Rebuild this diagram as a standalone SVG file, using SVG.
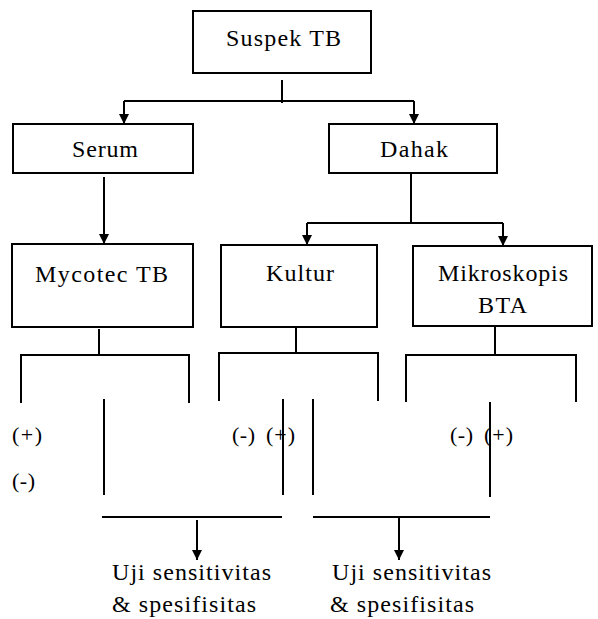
<svg xmlns="http://www.w3.org/2000/svg" width="598" height="619" viewBox="0 0 598 619">
<style>
.box{fill:#fff;stroke:#000;stroke-width:2}
.ln{fill:none;stroke:#000;stroke-width:2}
text{font-family:'Liberation Serif','DejaVu Serif Condensed','DejaVu Serif',serif;font-stretch:condensed;font-size:24px;fill:#000}
.s{font-size:22px}
</style>
<defs>
<marker id="ah" markerUnits="userSpaceOnUse" markerWidth="10" markerHeight="10" refX="10" refY="5" orient="auto">
<path d="M0,0 L10,5 L0,10 z" fill="#000"/>
</marker>
</defs>
<g id="connectors">
<path class="ln" d="M282,80 V103"/>
<path class="ln" d="M124,101 H414"/>
<path class="ln" d="M124,101 V124" marker-end="url(#ah)"/>
<path class="ln" d="M414,101 V124" marker-end="url(#ah)"/>
<path class="ln" d="M104,177 V244" marker-end="url(#ah)"/>
<path class="ln" d="M411,173 V223"/>
<path class="ln" d="M307,223 H503"/>
<path class="ln" d="M307,223 V245" marker-end="url(#ah)"/>
<path class="ln" d="M503,223 V246" marker-end="url(#ah)"/>
<path class="ln" d="M99,329 V354"/>
<path class="ln" d="M21,403 V355 H189 V403"/>
<path class="ln" d="M296,327 V353"/>
<path class="ln" d="M219,401 V353 H378 V401"/>
<path class="ln" d="M495,326 V354"/>
<path class="ln" d="M406,402 V355 H576 V402"/>
<path class="ln" d="M104,399 V495"/>
<path class="ln" d="M283,399 V495"/>
<path class="ln" d="M313,399 V495"/>
<path class="ln" d="M490,402 V497"/>
<path class="ln" d="M102,517 H282"/>
<path class="ln" d="M313,517 H490"/>
<path class="ln" d="M197,520 V560" marker-end="url(#ah)"/>
<path class="ln" d="M399,517 V560" marker-end="url(#ah)"/>
</g>
<g id="suspek">
<rect class="box" x="193" y="11" width="178" height="62"/>
<text x="226" y="46" textLength="115">Suspek TB</text>
</g>
<g id="serum">
<rect class="box" x="13" y="124" width="180" height="49"/>
<text x="72" y="157" textLength="66">Serum</text>
</g>
<g id="dahak">
<rect class="box" x="329" y="124" width="168" height="49"/>
<text x="380" y="157" textLength="68">Dahak</text>
</g>
<g id="mycotec">
<rect class="box" x="12" y="244" width="181" height="83"/>
<text x="35" y="282" textLength="133">Mycotec TB</text>
</g>
<g id="kultur">
<rect class="box" x="221" y="245" width="156" height="82"/>
<text x="266" y="281" textLength="68">Kultur</text>
</g>
<g id="mikroskopis">
<rect class="box" x="413" y="246" width="179" height="80"/>
<text x="438" y="281" textLength="130">Mikroskopis</text>
<text x="478" y="313" textLength="49">BTA</text>
</g>
<g id="labels">
<text class="s" x="12" y="442" textLength="30">(+)</text>
<text class="s" x="12" y="488" textLength="23">(-)</text>
<text class="s" x="232" y="442" textLength="23">(-)</text>
<text class="s" x="266" y="442" textLength="29">(+)</text>
<text class="s" x="450" y="442" textLength="23">(-)</text>
<text class="s" x="484" y="442" textLength="29">(+)</text>
</g>
<g id="result1">
<text x="112" y="580" textLength="159">Uji sensitivitas</text>
<text x="112" y="612" textLength="144">&amp; spesifisitas</text>
</g>
<g id="result2">
<text x="332" y="580" textLength="159">Uji sensitivitas</text>
<text x="330" y="612" textLength="144">&amp; spesifisitas</text>
</g>
</svg>
